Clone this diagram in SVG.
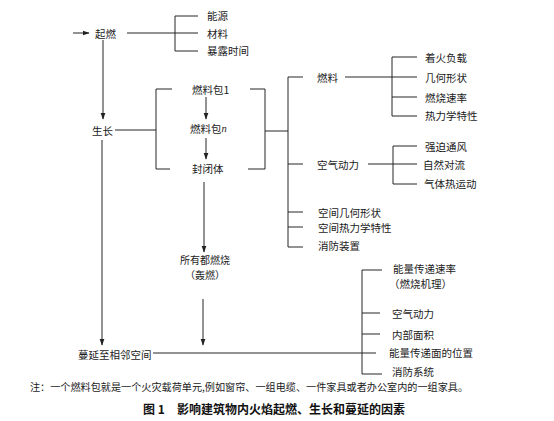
<svg xmlns="http://www.w3.org/2000/svg" width="554" height="421" viewBox="0 0 554 421">
<defs>
<marker id="ah" viewBox="0 0 10 10" refX="9" refY="5" markerWidth="7" markerHeight="7" markerUnits="userSpaceOnUse" orient="auto">
<path d="M0,1.5 L10,5 L0,8.5 Z" fill="#222"/>
</marker>
<style>
.t{font-family:"Noto Sans CJK SC","Liberation Serif",serif;font-size:10.5px;fill:#1a1a1a;dominant-baseline:central}
.s{font-size:10px}
.m{text-anchor:middle}
.c line,.c path{stroke:#262626;stroke-width:1;fill:none}
.a{marker-end:url(#ah)}
.note{font-family:"Noto Sans CJK SC","Liberation Serif",serif;font-size:10px;fill:#1a1a1a;dominant-baseline:central}
.cap{font-family:"Noto Sans CJK SC","Liberation Sans",sans-serif;font-size:12px;font-weight:bold;fill:#111;dominant-baseline:central}
</style>
</defs>
<rect width="554" height="421" fill="#fff"/>
<g id="connectors" class="c">
<line class="a" x1="73" y1="33" x2="89" y2="33"/>
<line x1="127" y1="33" x2="198" y2="33"/>
<path d="M198,16 H175 V51 H198"/>
<line class="a" x1="103" y1="40" x2="103" y2="119"/>
<line x1="115" y1="130" x2="156" y2="130"/>
<path d="M172,89 H156 V169 H170"/>
<line class="a" x1="206" y1="97" x2="206" y2="119"/>
<line class="a" x1="206" y1="138" x2="206" y2="159"/>
<path d="M250,89 H265 V169 H248"/>
<line x1="265" y1="131" x2="288" y2="131"/>
<path d="M303,77 H288 V247 H303"/>
<line x1="288" y1="164" x2="303" y2="164"/>
<line x1="288" y1="212" x2="303" y2="212"/>
<line x1="288" y1="227" x2="303" y2="227"/>
<line x1="345" y1="77" x2="417" y2="77"/>
<path d="M417,57 H392 V116 H417"/>
<line x1="392" y1="97" x2="417" y2="97"/>
<line x1="368" y1="164" x2="417" y2="164"/>
<path d="M417,146 H393 V184 H417"/>
<line class="a" x1="204" y1="182" x2="204" y2="252"/>
<line class="a" x1="102" y1="140" x2="102" y2="345"/>
<line class="a" x1="203" y1="299" x2="203" y2="345"/>
<line x1="153" y1="353" x2="376" y2="353"/>
<path d="M382,270 H362 V374 H382"/>
<line x1="362" y1="313" x2="380" y2="313"/>
<line x1="362" y1="334" x2="380" y2="334"/>
</g>
<g id="n-qiran"><text class="t" x="95" y="33">起燃</text></g>
<g id="n-nengyuan"><text class="t" x="207" y="15">能源</text></g>
<g id="n-cailiao"><text class="t" x="207" y="33">材料</text></g>
<g id="n-baolu"><text class="t" x="207" y="50">暴露时间</text></g>
<g id="n-shengzhang"><text class="t" x="92" y="130">生长</text></g>
<g id="n-bao1"><text class="t" x="192" y="89">燃料包1</text></g>
<g id="n-baon"><text class="t" x="190" y="128">燃料包<tspan font-family="Liberation Serif" font-style="italic">n</tspan></text></g>
<g id="n-fengbi"><text class="t" x="192" y="168">封闭体</text></g>
<g id="n-ranliao"><text class="t" x="317" y="77">燃料</text></g>
<g id="n-kongqi"><text class="t" x="317" y="164">空气动力</text></g>
<g id="n-kjjh"><text class="t" x="318" y="212">空间几何形状</text></g>
<g id="n-kjrl"><text class="t" x="318" y="227">空间热力学特性</text></g>
<g id="n-xfzz"><text class="t" x="318" y="245">消防装置</text></g>
<g id="n-zhuohuo"><text class="t" x="425" y="57">着火负载</text></g>
<g id="n-jihe"><text class="t" x="425" y="77">几何形状</text></g>
<g id="n-ranshao"><text class="t" x="425" y="97">燃烧速率</text></g>
<g id="n-relixue"><text class="t" x="425" y="115">热力学特性</text></g>
<g id="n-qiangpo"><text class="t" x="425" y="146">强迫通风</text></g>
<g id="n-ziran"><text class="t" x="423" y="164">自然对流</text></g>
<g id="n-qiti"><text class="t" x="424" y="183">气体热运动</text></g>
<g id="n-suoyou"><text class="t s m" x="205" y="259">所有都燃烧</text><text class="t s m" x="205" y="274">（轰燃）</text></g>
<g id="n-nlsl"><text class="t" x="393" y="268">能量传递速率</text><text class="t" x="389" y="283">（燃烧机理）</text></g>
<g id="n-kqdl2"><text class="t" x="392" y="313">空气动力</text></g>
<g id="n-nbmj"><text class="t" x="392" y="334">内部面积</text></g>
<g id="n-nlwz"><text class="t" x="389" y="352">能量传递面的位置</text></g>
<g id="n-xfxt"><text class="t" x="392" y="371">消防系统</text></g>
<g id="n-manyan"><text class="t" x="78" y="354">蔓延至相邻空间</text></g>
<text class="note" x="30" y="386" textLength="438" lengthAdjust="spacingAndGlyphs">注：一个燃料包就是一个火灾载荷单元,例如窗帘、一组电缆、一件家具或者办公室内的一组家具。</text>
<text class="cap" x="143" y="408">图 1<tspan x="177">影响建筑物内火焰起燃、生长和蔓延的因素</tspan></text>
</svg>
